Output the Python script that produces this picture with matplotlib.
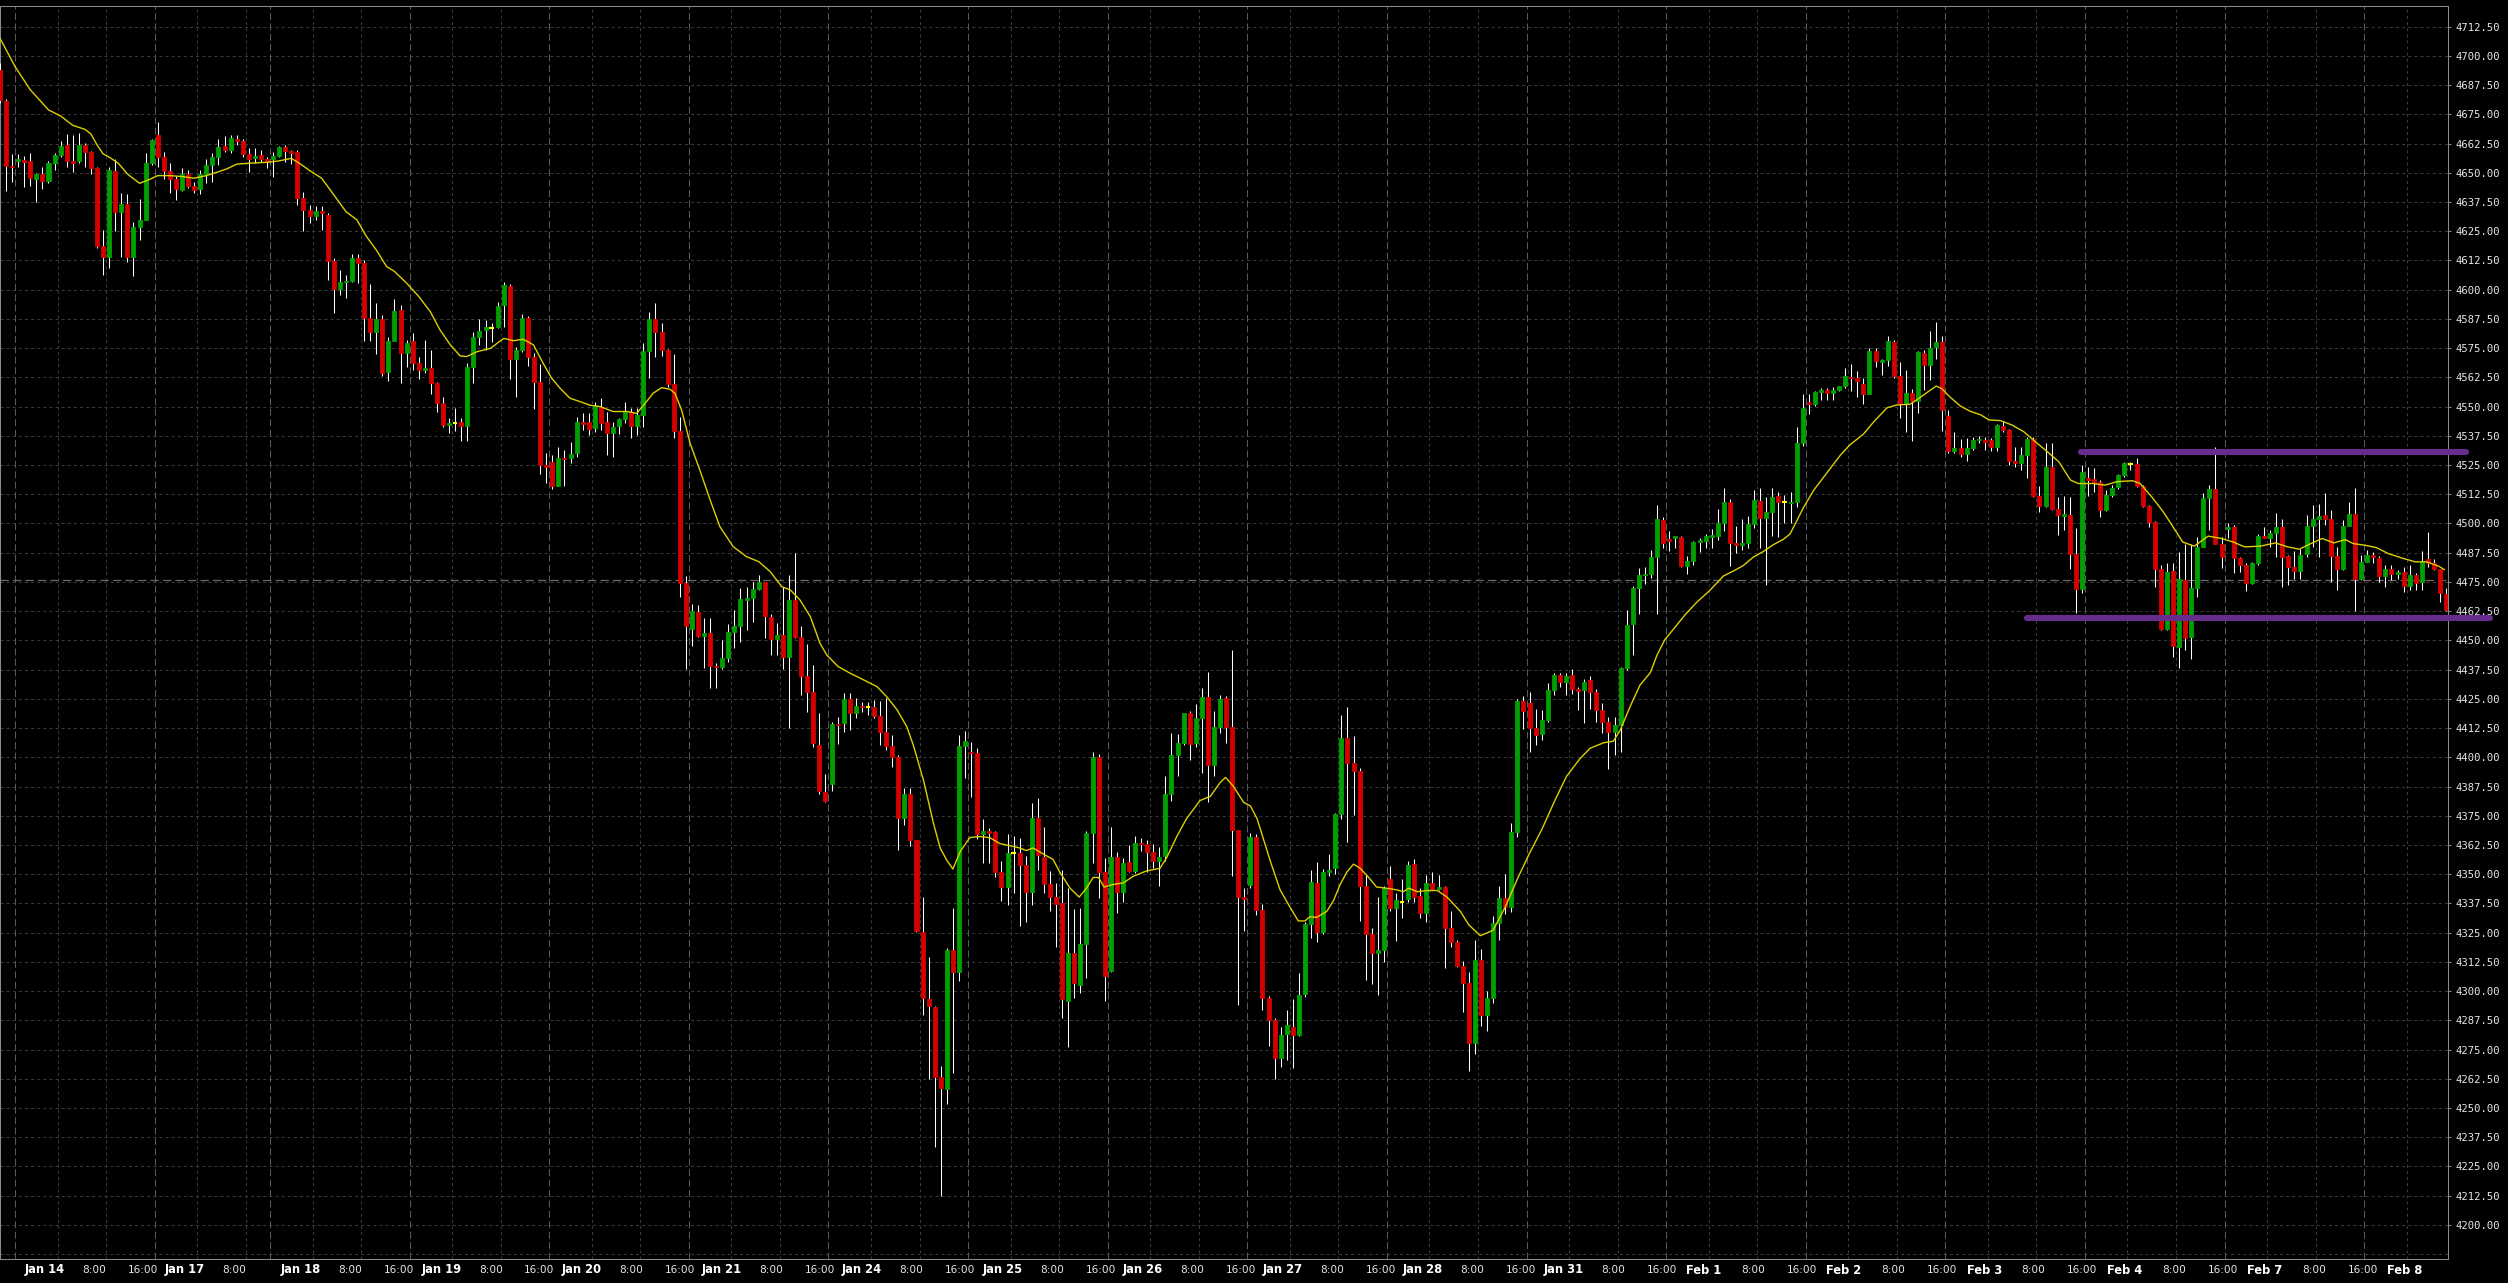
import numpy as np
import matplotlib
matplotlib.use('Agg')
import matplotlib.pyplot as plt

# hourly candles (index = bar number)
opens = [4694.0, 4680.7, 4653.1, 4655.2, 4655.5, 4655.0, 4647.4, 4649.5, 4646.5, 4654.1,
         4657.6, 4661.9, 4655.1, 4655.1, 4661.9, 4658.9, 4652.1, 4618.7, 4613.8, 4650.8,
         4633.4, 4636.7, 4613.8, 4627.0, 4629.8, 4654.1, 4666.2, 4656.9, 4650.9, 4647.2,
         4642.7, 4649.5, 4644.5, 4643.1, 4649.5, 4653.4, 4656.9, 4661.6, 4659.8, 4664.5,
         4663.8, 4658.1, 4656.5, 4657.6, 4655.9, 4655.9, 4657.2, 4661.2, 4659.4, 4658.9,
         4639.4, 4634.1, 4631.7, 4633.7, 4632.0, 4612.4, 4600.1, 4603.1, 4603.7, 4613.6,
         4611.3, 4588.0, 4582.0, 4587.4, 4564.9, 4578.1, 4591.3, 4572.8, 4578.1, 4568.5,
         4565.7, 4566.6, 4560.0, 4551.7, 4542.1, 4543.1, 4543.5, 4541.7, 4567.1, 4579.9,
         4582.8, 4583.8, 4584.2, 4593.5, 4601.6, 4570.2, 4574.2, 4587.8, 4571.4, 4560.7,
         4525.0, 4526.5, 4516.2, 4527.9, 4527.9, 4530.3, 4543.3, 4543.3, 4540.7, 4550.0,
         4543.3, 4538.9, 4541.5, 4544.7, 4547.6, 4541.9, 4546.4, 4573.8, 4587.3, 4582.1,
         4574.2, 4559.7, 4539.6, 4474.4, 4454.8, 4462.3, 4452.0, 4453.0, 4439.2, 4438.5,
         4442.3, 4453.5, 4456.2, 4467.3, 4468.3, 4472.0, 4474.9, 4459.9, 4450.5, 4452.3,
         4442.8, 4467.3, 4451.3, 4434.9, 4427.8, 4405.4, 4385.2, 4388.6, 4414.3, 4414.5,
         4425.0, 4418.8, 4422.0, 4421.3, 4421.4, 4417.8, 4411.0, 4405.0, 4400.2, 4374.2,
         4384.4, 4364.8, 4325.2, 4296.7, 4293.4, 4263.3, 4258.0, 4317.7, 4308.2, 4404.7,
         4402.3, 4402.0, 4367.2, 4368.5, 4368.0, 4350.9, 4344.4, 4358.9, 4359.0, 4354.0,
         4342.5, 4374.2, 4357.5, 4345.6, 4340.2, 4337.5, 4295.9, 4316.4, 4302.8, 4320.3,
         4367.7, 4400.3, 4350.9, 4308.6, 4357.5, 4342.5, 4355.0, 4351.4, 4363.5, 4362.7,
         4359.3, 4355.8, 4357.8, 4384.1, 4401.1, 4406.0, 4418.8, 4406.0, 4416.7, 4425.8,
         4396.8, 4412.8, 4425.5, 4412.8, 4368.8, 4340.2, 4345.3, 4365.8, 4334.6, 4297.0,
         4287.5, 4271.5, 4281.7, 4284.8, 4281.4, 4298.9, 4328.7, 4346.3, 4325.4, 4351.1,
         4352.8, 4375.8, 4408.2, 4397.4, 4394.3, 4344.8, 4324.2, 4316.2, 4317.7, 4347.9,
         4335.6, 4338.2, 4339.5, 4354.4, 4340.5, 4333.3, 4346.3, 4343.6, 4344.5, 4326.9,
         4320.8, 4310.7, 4303.5, 4277.6, 4313.5, 4289.8, 4297.0, 4329.0, 4340.0, 4336.0,
         4368.0, 4424.2, 4423.4, 4412.6, 4409.9, 4415.9, 4428.7, 4435.1, 4432.1, 4435.1,
         4429.4, 4428.7, 4432.9, 4427.9, 4420.4, 4415.2, 4411.0, 4413.8, 4438.1, 4457.2,
         4472.2, 4477.9, 4478.6, 4485.7, 4501.5, 4493.2, 4493.8, 4494.3, 4482.0, 4484.0,
         4491.9, 4492.4, 4494.4, 4494.7, 4500.0, 4509.3, 4491.7, 4491.0, 4491.7, 4499.7,
         4509.7, 4502.2, 4504.9, 4511.7, 4509.0, 4508.7, 4509.3, 4534.5, 4552.0, 4551.3,
         4556.2, 4556.9, 4555.7, 4557.1, 4558.6, 4562.8, 4562.1, 4559.7, 4555.5, 4573.8,
         4569.0, 4570.0, 4577.7, 4563.0, 4551.0, 4555.8, 4552.5, 4573.0, 4567.8, 4575.3,
         4577.7, 4546.0, 4531.2, 4532.5, 4529.7, 4532.5, 4535.7, 4535.7, 4535.7, 4532.9,
         4541.7, 4540.0, 4526.7, 4525.7, 4529.3, 4536.0, 4511.7, 4507.4, 4524.3, 4506.0,
         4503.4, 4503.6, 4487.1, 4471.9, 4519.3, 4518.9, 4517.9, 4505.7, 4512.1, 4515.4,
         4520.7, 4525.3, 4525.4, 4516.0, 4507.4, 4500.7, 4480.4, 4454.7, 4479.6, 4447.1,
         4475.7, 4451.4, 4472.4, 4490.0, 4511.0, 4514.6, 4491.1, 4497.7, 4498.3, 4485.3,
         4482.1, 4474.6, 4482.9, 4494.6, 4494.0, 4496.0, 4498.6, 4486.0, 4481.4, 4479.7,
         4486.9, 4498.9, 4502.1, 4503.6, 4501.9, 4486.1, 4480.4, 4498.9, 4504.0, 4476.4,
         4483.6, 4486.4, 4485.3, 4477.6, 4480.4, 4478.6, 4479.3, 4473.3, 4478.1, 4474.9,
         4484.6, 4482.9, 4480.4, 4470.0]
highs = [4697.0, 4681.6, 4658.0, 4658.0, 4657.2, 4658.3, 4649.8, 4652.5, 4655.0, 4658.3,
         4663.8, 4666.6, 4666.3, 4666.9, 4662.6, 4659.2, 4652.6, 4625.5, 4652.6, 4655.8,
         4641.4, 4640.8, 4629.1, 4638.8, 4658.3, 4664.6, 4671.6, 4659.0, 4654.1, 4648.6,
         4652.1, 4651.2, 4646.1, 4651.2, 4655.8, 4658.6, 4664.5, 4665.8, 4666.0, 4666.0,
         4664.5, 4660.6, 4660.6, 4659.8, 4656.9, 4659.0, 4661.6, 4661.9, 4659.8, 4659.8,
         4641.6, 4636.2, 4635.8, 4635.8, 4632.7, 4613.4, 4608.4, 4606.3, 4615.3, 4615.3,
         4612.7, 4602.4, 4594.1, 4589.2, 4579.9, 4596.0, 4593.4, 4578.5, 4581.3, 4571.4,
         4578.5, 4574.2, 4560.7, 4554.3, 4545.0, 4549.5, 4545.0, 4568.5, 4582.1, 4587.3,
         4587.1, 4585.6, 4594.9, 4603.3, 4602.5, 4575.7, 4589.6, 4588.8, 4573.1, 4568.1,
         4530.0, 4529.3, 4532.6, 4531.5, 4534.7, 4545.4, 4547.1, 4547.1, 4551.8, 4553.6,
         4547.9, 4543.6, 4545.0, 4551.8, 4549.6, 4549.3, 4577.1, 4590.6, 4594.5, 4585.6,
         4574.8, 4572.5, 4545.7, 4477.6, 4465.6, 4465.2, 4459.5, 4459.5, 4440.2, 4450.2,
         4456.9, 4463.0, 4472.3, 4473.0, 4475.1, 4478.0, 4475.1, 4461.3, 4457.6, 4473.0,
         4478.0, 4487.3, 4456.2, 4448.3, 4439.5, 4419.1, 4393.0, 4414.9, 4417.2, 4427.4,
         4427.4, 4425.2, 4423.8, 4423.8, 4424.5, 4424.0, 4425.2, 4409.5, 4400.9, 4387.0,
         4386.7, 4364.8, 4340.2, 4314.7, 4293.7, 4268.1, 4318.4, 4335.7, 4409.6, 4411.1,
         4406.5, 4404.0, 4373.6, 4369.6, 4368.5, 4355.5, 4367.0, 4366.2, 4365.4, 4357.8,
         4380.4, 4382.7, 4370.0, 4351.4, 4346.3, 4351.7, 4344.3, 4334.9, 4335.4, 4368.5,
         4402.4, 4401.3, 4357.0, 4370.0, 4359.3, 4357.0, 4362.4, 4366.5, 4365.4, 4364.7,
         4362.8, 4361.7, 4392.2, 4410.6, 4409.8, 4419.0, 4419.8, 4423.0, 4429.6, 4436.5,
         4419.7, 4426.6, 4426.1, 4446.0, 4369.0, 4344.0, 4367.7, 4367.0, 4337.2, 4297.8,
         4288.3, 4284.8, 4291.9, 4296.8, 4307.7, 4329.5, 4351.7, 4355.2, 4352.1, 4358.6,
         4376.1, 4418.2, 4421.7, 4409.3, 4395.5, 4350.2, 4326.9, 4340.2, 4344.8, 4353.7,
         4341.8, 4347.9, 4355.5, 4356.3, 4344.0, 4349.7, 4350.9, 4349.8, 4345.1, 4334.1,
         4321.9, 4312.7, 4308.1, 4321.9, 4318.0, 4300.0, 4332.0, 4345.0, 4350.0, 4372.0,
         4425.0, 4426.1, 4428.0, 4420.7, 4420.4, 4431.7, 4436.2, 4436.2, 4436.2, 4437.7,
         4430.2, 4433.6, 4434.7, 4429.4, 4423.4, 4417.4, 4417.4, 4438.7, 4463.2, 4473.2,
         4480.8, 4481.2, 4488.7, 4507.9, 4502.7, 4496.9, 4494.8, 4494.7, 4486.3, 4492.4,
         4494.0, 4495.5, 4497.7, 4506.0, 4515.0, 4510.5, 4498.8, 4501.8, 4503.0, 4514.5,
         4515.0, 4511.2, 4515.0, 4513.5, 4512.0, 4513.5, 4541.2, 4555.2, 4555.5, 4556.7,
         4558.0, 4558.0, 4558.5, 4559.0, 4566.4, 4568.2, 4565.2, 4562.2, 4575.0, 4575.0,
         4570.5, 4580.2, 4578.3, 4569.0, 4565.5, 4557.7, 4573.8, 4574.2, 4582.5, 4586.2,
         4580.2, 4548.7, 4539.0, 4536.0, 4536.7, 4537.2, 4537.4, 4537.1, 4536.4, 4542.6,
         4544.0, 4540.3, 4532.9, 4532.9, 4537.1, 4537.1, 4516.0, 4534.3, 4534.6, 4511.4,
         4511.7, 4511.4, 4497.9, 4525.0, 4524.3, 4523.6, 4518.6, 4514.3, 4516.4, 4521.1,
         4526.4, 4526.1, 4527.9, 4516.4, 4507.9, 4501.1, 4482.1, 4482.9, 4482.9, 4487.6,
         4491.4, 4491.4, 4494.3, 4512.9, 4516.4, 4532.6, 4494.3, 4500.0, 4499.3, 4485.7,
         4482.9, 4483.6, 4495.3, 4498.6, 4497.1, 4504.3, 4502.1, 4486.4, 4488.3, 4489.3,
         4503.6, 4507.7, 4508.3, 4512.9, 4505.7, 4490.0, 4501.4, 4509.3, 4515.0, 4486.6,
         4488.6, 4487.9, 4486.1, 4482.4, 4482.4, 4479.9, 4481.4, 4482.1, 4478.9, 4488.3,
         4496.4, 4484.6, 4480.7, 4472.4]
lows = [4680.0, 4642.4, 4646.0, 4652.5, 4644.1, 4644.5, 4637.7, 4643.1, 4645.5, 4651.2,
        4656.9, 4652.6, 4650.5, 4654.1, 4652.6, 4649.5, 4618.0, 4606.3, 4609.1, 4625.2,
        4614.1, 4612.0, 4606.0, 4621.2, 4629.8, 4653.4, 4652.6, 4647.2, 4641.5, 4638.4,
        4642.4, 4643.6, 4641.2, 4641.0, 4645.5, 4646.2, 4653.4, 4659.1, 4658.6, 4661.9,
        4656.9, 4650.5, 4654.1, 4654.8, 4651.9, 4648.1, 4656.9, 4654.5, 4653.8, 4636.2,
        4625.2, 4628.4, 4629.8, 4625.5, 4604.1, 4590.2, 4597.7, 4596.6, 4603.4, 4602.7,
        4578.2, 4578.2, 4572.3, 4563.1, 4561.1, 4578.1, 4560.0, 4567.1, 4565.7, 4561.6,
        4564.5, 4555.6, 4547.8, 4541.4, 4538.5, 4539.5, 4535.4, 4535.4, 4559.9, 4576.4,
        4574.2, 4577.8, 4583.5, 4583.9, 4561.7, 4554.3, 4573.5, 4567.4, 4549.1, 4521.0,
        4517.2, 4514.6, 4516.2, 4516.2, 4526.0, 4528.3, 4540.0, 4537.7, 4539.3, 4540.0,
        4529.3, 4528.6, 4538.2, 4542.9, 4536.7, 4537.9, 4541.4, 4562.1, 4571.4, 4571.7,
        4558.5, 4536.7, 4468.7, 4437.6, 4447.6, 4451.6, 4438.1, 4429.5, 4429.8, 4437.6,
        4440.9, 4446.6, 4449.5, 4454.5, 4458.0, 4471.6, 4450.9, 4443.8, 4443.8, 4437.6,
        4412.4, 4450.9, 4426.7, 4419.5, 4404.4, 4384.4, 4380.7, 4385.5, 4405.7, 4410.7,
        4411.7, 4416.7, 4419.5, 4418.1, 4416.7, 4405.4, 4403.2, 4395.7, 4360.4, 4370.9,
        4361.9, 4325.2, 4289.6, 4262.6, 4233.3, 4212.3, 4251.9, 4264.8, 4304.2, 4391.2,
        4382.9, 4364.9, 4354.7, 4354.7, 4348.6, 4338.4, 4337.0, 4342.1, 4328.0, 4329.5,
        4336.7, 4351.7, 4341.8, 4334.1, 4318.8, 4288.3, 4276.2, 4297.2, 4299.3, 4305.8,
        4354.7, 4339.9, 4295.9, 4308.1, 4333.3, 4337.9, 4350.9, 4350.5, 4360.0, 4350.9,
        4352.5, 4344.8, 4355.5, 4381.5, 4391.9, 4405.2, 4399.0, 4404.4, 4393.4, 4380.8,
        4391.9, 4410.5, 4405.9, 4349.4, 4294.0, 4325.7, 4344.0, 4332.6, 4292.1, 4276.5,
        4262.6, 4267.6, 4270.7, 4266.9, 4280.6, 4297.4, 4322.6, 4320.8, 4324.2, 4349.4,
        4350.2, 4373.5, 4363.9, 4375.4, 4330.0, 4304.8, 4303.2, 4298.2, 4312.4, 4334.1,
        4321.4, 4331.1, 4337.9, 4337.9, 4331.1, 4329.5, 4343.3, 4343.3, 4309.9, 4318.8,
        4310.4, 4291.2, 4265.7, 4273.0, 4285.0, 4283.0, 4295.0, 4322.0, 4333.0, 4334.0,
        4366.0, 4412.2, 4402.4, 4405.1, 4407.2, 4415.2, 4426.7, 4430.2, 4426.7, 4427.2,
        4420.4, 4414.7, 4420.7, 4415.2, 4410.2, 4395.2, 4400.9, 4402.4, 4437.5, 4443.7,
        4461.3, 4474.3, 4476.7, 4461.4, 4489.5, 4488.2, 4489.5, 4481.2, 4478.6, 4482.3,
        4487.9, 4489.5, 4489.5, 4492.8, 4497.0, 4482.0, 4487.2, 4488.7, 4489.7, 4498.2,
        4489.5, 4473.7, 4494.7, 4494.3, 4500.0, 4500.0, 4507.2, 4533.0, 4546.9, 4550.2,
        4552.9, 4552.8, 4552.8, 4556.5, 4558.1, 4556.7, 4554.0, 4551.0, 4555.2, 4567.0,
        4563.6, 4567.2, 4562.2, 4545.0, 4539.0, 4535.2, 4547.2, 4557.3, 4561.5, 4570.5,
        4539.7, 4530.0, 4530.0, 4528.5, 4526.7, 4531.5, 4534.6, 4531.4, 4531.0, 4531.0,
        4539.3, 4525.0, 4524.3, 4522.9, 4519.6, 4511.4, 4505.0, 4507.0, 4505.7, 4495.0,
        4497.1, 4480.7, 4461.7, 4470.3, 4511.9, 4513.6, 4502.6, 4505.5, 4511.4, 4514.9,
        4520.0, 4522.7, 4515.7, 4507.1, 4498.6, 4472.9, 4454.3, 4454.3, 4442.9, 4438.3,
        4446.0, 4442.1, 4468.6, 4490.0, 4497.1, 4491.1, 4481.0, 4494.0, 4478.9, 4479.3,
        4471.1, 4474.3, 4482.1, 4494.0, 4490.0, 4485.7, 4472.9, 4473.6, 4476.4, 4476.4,
        4485.7, 4490.0, 4485.7, 4499.3, 4475.0, 4471.4, 4480.0, 4498.9, 4462.6, 4475.7,
        4483.4, 4482.9, 4475.0, 4472.9, 4476.0, 4476.4, 4470.7, 4471.4, 4471.4, 4471.4,
        4481.4, 4479.9, 4466.4, 4462.6]
closes = [4681.2, 4653.1, 4652.5, 4655.8, 4654.8, 4647.9, 4649.5, 4646.5, 4654.1, 4657.6,
          4661.5, 4655.1, 4654.1, 4661.9, 4658.8, 4652.1, 4618.7, 4613.8, 4651.2, 4633.4,
          4636.7, 4613.8, 4627.0, 4629.8, 4654.1, 4664.1, 4656.9, 4650.9, 4647.2, 4643.1,
          4649.5, 4644.5, 4642.7, 4649.5, 4653.4, 4656.9, 4661.2, 4659.8, 4665.1, 4663.8,
          4658.1, 4655.9, 4657.2, 4655.9, 4654.8, 4657.2, 4661.2, 4659.5, 4658.6, 4639.4,
          4634.1, 4631.7, 4633.7, 4632.7, 4612.4, 4600.1, 4603.4, 4603.7, 4613.6, 4611.3,
          4588.0, 4582.0, 4587.4, 4564.5, 4578.1, 4590.9, 4572.8, 4577.4, 4568.5, 4565.7,
          4566.6, 4560.0, 4551.7, 4542.1, 4543.1, 4543.1, 4541.7, 4567.1, 4579.9, 4582.2,
          4584.2, 4583.8, 4593.0, 4602.0, 4570.2, 4574.2, 4587.8, 4571.4, 4560.7, 4525.0,
          4524.3, 4516.2, 4527.9, 4527.5, 4529.7, 4543.3, 4542.7, 4540.4, 4550.4, 4542.9,
          4538.9, 4541.2, 4544.6, 4547.6, 4541.9, 4546.4, 4573.8, 4587.3, 4582.1, 4574.2,
          4559.7, 4539.6, 4474.4, 4456.3, 4462.7, 4452.0, 4453.0, 4439.2, 4438.5, 4442.3,
          4453.5, 4456.2, 4467.7, 4468.3, 4472.0, 4474.9, 4460.6, 4450.5, 4452.3, 4443.1,
          4467.3, 4451.3, 4434.9, 4427.8, 4405.9, 4385.5, 4381.4, 4414.3, 4413.7, 4425.0,
          4418.8, 4422.0, 4421.4, 4421.3, 4417.7, 4411.0, 4405.0, 4400.2, 4374.2, 4384.4,
          4364.5, 4325.8, 4297.0, 4293.7, 4263.3, 4258.4, 4317.7, 4308.2, 4404.7, 4407.0,
          4401.7, 4367.2, 4368.5, 4367.7, 4350.9, 4344.4, 4359.0, 4358.9, 4354.0, 4342.5,
          4374.2, 4358.1, 4345.6, 4340.2, 4337.2, 4296.4, 4316.4, 4303.3, 4320.3, 4367.7,
          4400.3, 4350.9, 4306.3, 4357.5, 4342.5, 4354.7, 4351.4, 4363.5, 4362.7, 4359.3,
          4355.8, 4357.5, 4384.1, 4401.1, 4406.0, 4418.8, 4405.6, 4416.7, 4425.8, 4396.8,
          4412.8, 4425.0, 4412.8, 4368.8, 4340.2, 4339.2, 4365.8, 4334.6, 4297.0, 4287.5,
          4271.5, 4281.4, 4285.4, 4281.0, 4298.5, 4328.7, 4346.6, 4325.4, 4350.9, 4352.0,
          4375.8, 4408.2, 4397.5, 4394.3, 4344.8, 4324.6, 4316.2, 4317.7, 4343.9, 4335.6,
          4339.0, 4338.2, 4354.0, 4340.2, 4333.3, 4346.3, 4343.6, 4344.5, 4326.9, 4321.1,
          4310.7, 4303.5, 4277.6, 4313.5, 4289.8, 4297.0, 4329.0, 4340.0, 4336.0, 4368.0,
          4424.2, 4420.0, 4412.6, 4409.5, 4415.9, 4428.7, 4435.1, 4432.1, 4434.7, 4429.4,
          4428.5, 4432.4, 4427.9, 4420.4, 4415.2, 4411.0, 4413.7, 4438.1, 4456.7, 4472.6,
          4477.8, 4478.6, 4485.7, 4501.9, 4491.7, 4492.5, 4494.6, 4482.0, 4484.0, 4491.9,
          4492.9, 4494.7, 4495.1, 4500.0, 4509.3, 4491.7, 4491.0, 4491.7, 4499.7, 4510.0,
          4502.2, 4504.9, 4511.5, 4509.3, 4509.0, 4509.3, 4534.5, 4549.5, 4551.3, 4556.2,
          4557.0, 4555.7, 4557.1, 4558.6, 4562.9, 4562.1, 4561.0, 4555.5, 4573.8, 4569.3,
          4570.0, 4578.0, 4563.0, 4551.0, 4555.8, 4552.5, 4573.2, 4567.8, 4575.0, 4577.7,
          4548.7, 4531.2, 4532.1, 4529.7, 4532.5, 4535.7, 4536.1, 4535.0, 4532.9, 4542.1,
          4540.0, 4526.7, 4526.0, 4529.3, 4536.0, 4511.7, 4507.4, 4524.3, 4506.0, 4503.6,
          4504.0, 4487.1, 4471.9, 4522.1, 4518.6, 4517.9, 4505.7, 4512.1, 4515.3, 4520.7,
          4525.7, 4525.3, 4516.1, 4507.4, 4500.7, 4480.4, 4454.7, 4479.3, 4447.4, 4476.1,
          4451.0, 4472.4, 4490.0, 4511.0, 4514.6, 4491.4, 4485.7, 4498.7, 4485.3, 4482.1,
          4474.6, 4482.9, 4494.6, 4494.0, 4496.0, 4498.6, 4485.7, 4481.4, 4479.7, 4486.4,
          4498.9, 4502.1, 4503.1, 4501.9, 4486.1, 4480.4, 4498.9, 4504.0, 4476.4, 4483.6,
          4486.4, 4485.6, 4477.6, 4480.4, 4478.6, 4479.3, 4473.3, 4478.1, 4474.7, 4483.9,
          4482.9, 4480.4, 4470.4, 4463.1]

# moving average line (bar position, value)
ma_bar = [0, 2.5, 5, 8, 10, 12, 14, 15, 16, 17, 18, 19.5, 21, 23, 24.5, 26, 28, 30, 32, 34,
          35.7, 37.4, 39, 41, 44, 46, 48, 49.5, 51, 53, 55, 57, 58.8, 60.4, 62, 63.7, 65, 67,
          69, 70.9, 72.5, 74.2, 75.8, 76.9, 78.6, 80.8, 83, 84.6, 86.2, 87.9, 89.5, 90.9,
          92.3, 93.9, 95.6, 97.2, 98.9, 101, 103.3, 104.9, 106.3, 107.6, 109, 110.4, 111.2,
          112.3, 113.7, 115.3, 117, 118.6, 120.8, 123, 125, 126.9, 128.8, 130.2, 131.8,
          133.5, 135.1, 136.2, 138.1, 140.1, 142.3, 144.5, 146.1, 147.8, 149.4, 150.5,
          152.2, 153.8, 154.9, 156, 157, 158.2, 159.8, 161.5, 163.1, 164.7, 166.9, 168,
          169.1, 170.2, 171.9, 173.5, 174.6, 176.3, 177.8, 179, 180.1, 181, 181.9, 183.4,
          185.1, 186.7, 188.9, 191.1, 192.2, 193.9, 195.5, 197.7, 199.4, 201, 201.9, 203.2,
          204.9, 206, 207.1, 208.2, 209.3, 210.9, 212.6, 213.9, 215, 215.8, 216.9, 218.6,
          219.7, 220.8, 221.9, 223, 224.1, 225.5, 226.8, 228.5, 230.1, 231.2, 232.1, 233.5,
          235.1, 236.8, 238.4, 240.6, 242, 243.9, 246, 248, 250, 252, 254, 256.2, 258.1,
          260.3, 262, 264.2, 265.8, 266.9, 268.6, 270.2, 271.9, 273, 274.3, 276, 277.6,
          279.5, 281.7, 282.8, 283.9, 285.6, 287.2, 288.9, 290.5, 292.2, 293.8, 294.9,
          295.8, 297.1, 298.8, 301, 303.2, 304.8, 307, 308.7, 310.9, 312.5, 314.7, 316.4,
          318, 319, 319.9, 321.3, 323, 324.6, 326.3, 327.7, 329.6, 331.5, 333.4, 335, 337.3,
          339.2, 341.1, 342.4, 344.9, 346.8, 348.8, 351.3, 352.6, 354.5, 356.4, 358, 359.6,
          361.5, 363.8, 366, 367.9, 369.8, 372.4, 374.9, 376.9, 378.8, 380.7, 382.6, 384.5,
          386.4, 387.7, 389.6, 391.5, 393.5, 396, 397.9, 399.8, 401.8, 402.7]
ma_val = [4707.6, 4695.4, 4685.5, 4676.9, 4674.3, 4670.3, 4668.6, 4666.6, 4661.9, 4658.1,
          4656.7, 4654.1, 4649.5, 4645.5, 4647.0, 4648.8, 4648.8, 4648.4, 4647.7, 4648.8,
          4650.2, 4651.7, 4653.7, 4654.1, 4654.5, 4655.1, 4656.2, 4653.8, 4651.0, 4647.7,
          4640.6, 4633.4, 4629.9, 4622.7, 4617.0, 4609.9, 4607.8, 4602.8, 4597.1, 4590.6,
          4582.8, 4576.4, 4571.7, 4571.4, 4573.5, 4574.9, 4579.2, 4578.2, 4578.8, 4576.4,
          4568.5, 4562.1, 4557.8, 4553.6, 4552.1, 4550.6, 4550.0, 4547.9, 4547.9, 4547.1,
          4551.4, 4555.7, 4558.1, 4557.4, 4555.7, 4548.6, 4534.3, 4522.9, 4510.1, 4498.7,
          4490.1, 4485.8, 4483.7, 4479.4, 4473.0, 4471.6, 4467.3, 4460.2, 4448.8, 4443.8,
          4438.8, 4435.9, 4433.1, 4430.2, 4425.9, 4420.3, 4413.1, 4405.0, 4389.7, 4371.7,
          4361.2, 4355.9, 4352.2, 4359.7, 4365.7, 4366.1, 4365.6, 4363.1, 4361.9, 4361.2,
          4360.1, 4361.2, 4358.6, 4356.3, 4350.9, 4344.0, 4340.2, 4344.0, 4348.6, 4348.6,
          4344.5, 4345.6, 4346.3, 4349.1, 4351.4, 4352.5, 4357.0, 4366.2, 4373.8, 4381.5,
          4383.3, 4389.1, 4391.4, 4387.6, 4380.7, 4379.2, 4373.8, 4364.7, 4355.5, 4343.3,
          4335.6, 4330.0, 4330.0, 4331.8, 4331.5, 4334.1, 4338.7, 4345.6, 4350.9, 4354.3,
          4352.5, 4348.6, 4344.5, 4344.0, 4343.3, 4342.5, 4344.0, 4342.5, 4343.0, 4343.0,
          4340.2, 4334.1, 4328.3, 4323.7, 4326.0, 4336.0, 4348.0, 4359.0, 4369.0, 4381.7,
          4391.9, 4399.4, 4403.9, 4406.2, 4406.9, 4411.4, 4421.9, 4430.9, 4436.2, 4443.7,
          4450.4, 4455.7, 4460.9, 4466.2, 4471.4, 4474.4, 4477.5, 4479.7, 4482.0, 4485.7,
          4488.0, 4491.0, 4493.2, 4495.5, 4500.0, 4506.7, 4514.2, 4521.7, 4529.2, 4533.7,
          4538.2, 4543.5, 4549.5, 4550.7, 4551.0, 4554.0, 4557.0, 4558.8, 4557.7, 4554.0,
          4550.2, 4548.0, 4546.5, 4544.3, 4544.0, 4542.1, 4539.3, 4535.7, 4530.7, 4526.4,
          4518.6, 4517.1, 4517.1, 4516.4, 4517.9, 4518.3, 4517.1, 4511.4, 4505.0, 4498.6,
          4492.1, 4490.3, 4494.6, 4493.6, 4492.1, 4490.0, 4490.3, 4491.7, 4490.0, 4489.0,
          4491.4, 4493.6, 4491.7, 4493.1, 4491.4, 4490.7, 4489.7, 4487.1, 4485.0, 4483.6,
          4483.6, 4481.7, 4480.3]

# x axis: session days and the bar where each one starts
days = ['Jan 14', 'Jan 17', 'Jan 18', 'Jan 19', 'Jan 20', 'Jan 21', 'Jan 24', 'Jan 25',
        'Jan 26', 'Jan 27', 'Jan 28', 'Jan 31', 'Feb 1', 'Feb 2', 'Feb 3', 'Feb 4',
        'Feb 7', 'Feb 8']
day_start = [2.5, 25.5, 44.5, 67.5, 90.5, 113.5, 136.5, 159.5, 182.5, 205.5, 228.5,
             251.5, 274.5, 297.5, 320.5, 343.5, 366.5, 389.5]
hours = [('8:00', 7), ('16:00', 15)]

# drawn range lines and last-price line
range_top = 4530.4
range_bottom = 4459.7
last_price = 4476.0

W, H = 2508, 1283
plt.rcParams['lines.scale_dashes'] = False
fig = plt.figure(figsize=(W / 100, H / 100), dpi=100, facecolor='black')
ax = fig.add_axes([0, (H - 1259) / H, 2448 / W, (1259 - 6) / H], facecolor='black')

ax.set_xlim(0.01, 403.31)
ax.set_ylim(4185.4, 4721.35)

# grid
for v in np.arange(4187.5, 4720, 12.5):
    ax.axhline(v, color='#3a3a3a', lw=0.75, ls=(0, (2.2, 2.2)), zorder=1)
for d in day_start:
    ax.axvline(d, color='#5a5a5a', lw=0.75, ls=(0, (5, 2.5)), zorder=1)
    for _, h in hours:
        ax.axvline(d + h, color='#3a3a3a', lw=0.75, ls=(0, (2.2, 2.2)), zorder=1)
ax.axhline(last_price, color='#6a6a6a', lw=0.9, ls=(0, (6, 3)), zorder=1)

# candles
o = np.array(opens)
hi = np.array(highs)
lo = np.array(lows)
c = np.array(closes)
x = np.arange(len(o))
ax.vlines(x, lo, hi, color='white', lw=0.75, zorder=3)
up = c > o
dn = c < o
flat = c == o
ax.bar(x[up], (c - o)[up], bottom=o[up], width=0.66, color='#00a000',
       edgecolor='#00a000', lw=0.6, zorder=4)
ax.bar(x[dn], (c - o)[dn], bottom=o[dn], width=0.66, color='#d40000',
       edgecolor='#d40000', lw=0.6, zorder=4)
ax.hlines(o[flat], x[flat] - 0.38, x[flat] + 0.38, color='#ffff00', lw=1.5, zorder=4)

# moving average
ax.plot(ma_bar, ma_val, color='#dcd000', lw=1.0, zorder=5)

# purple range lines (run past the plot edge)
ax.plot([342.8, 406.3], [range_top, range_top], color='#662d8c', lw=4.4,
        solid_capstyle='round', clip_on=False, zorder=6)
ax.plot([333.9, 410.2], [range_bottom, range_bottom], color='#662d8c', lw=4.4,
        solid_capstyle='round', clip_on=False, zorder=6)

# frame + y axis on the right
for s in ax.spines.values():
    s.set_color('#8a8a8a')
    s.set_linewidth(0.75)
ax.yaxis.tick_right()
yt = np.arange(4200, 4713, 12.5)
ax.set_yticks(yt)
ax.set_yticklabels(['%.2f' % v for v in yt], family='DejaVu Sans Mono')
ax.tick_params(axis='y', colors='#8a8a8a', length=2.2, width=0.75, pad=2.9,
               labelsize=7.6, labelcolor='#e8e8e8')
ax.set_xticks([])

# x labels under the plot
ly = -11 / 1253
day_lab_x = [d + 4.9 + 0.0047 * d for d in day_start]
for name, lx in zip(days, day_lab_x):
    ax.text(lx, ly, name, transform=ax.get_xaxis_transform(), ha='center', va='center',
            color='white', fontsize=8.3, fontweight='bold', clip_on=False)
for d in day_start:
    for name, h in hours:
        t = d + h
        lx = t + 6.0 + 0.0047 * t
        if lx > 402 or min(abs(lx - q) for q in day_lab_x) < 6:
            continue
        ax.text(lx, ly, name, transform=ax.get_xaxis_transform(), ha='center',
                va='center', color='#e6e6e6', fontsize=7.6, clip_on=False)

fig.savefig('out.png', dpi=100, facecolor='black')
